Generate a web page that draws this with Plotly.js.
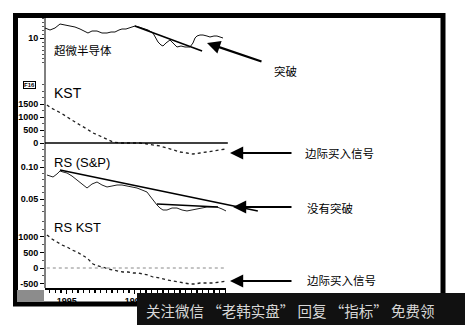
<!DOCTYPE html>
<html>
<head>
<meta charset="utf-8">
<script src="https://cdn.plot.ly/plotly-3.0.1.min.js"></script>
<style>html,body{margin:0;padding:0;background:#fff;}#chart{width:465px;height:325px;}</style>
</head>
<body>
<div id="chart"></div>
<script>
// ---- Data (years as decimal) ----
var priceX = [1994.680,1994.754,1994.827,1994.901,1994.974,1995.048,1995.121,1995.195,1995.254,1995.312,1995.371,1995.445,1995.518,1995.592,1995.651,1995.709,1995.768,1995.812,1995.871,1995.930,1996.004,1996.062,1996.121,1996.195,1996.268,1996.312,1996.342,1996.386,1996.415,1996.459,1996.518,1996.562,1996.621,1996.680,1996.739,1996.812,1996.856,1996.886,1996.915,1996.959,1997.004,1997.062,1997.106,1997.165,1997.209,1997.254,1997.298];
var priceY = [12.5,12,12.5,13.5,13.25,13,12.75,12.25,11.75,11.25,11.75,11.75,11.25,11.25,11.5,11.5,12,12.25,12.25,12.5,13,12.75,12.5,12,11.25,10,9,8.25,8,8.75,9.5,8.75,7.75,8,7.75,7.75,8.75,10,10.5,10.75,10.75,10.5,10.25,10.5,10.5,10.25,10];
var priceTrendX = [1996.00, 1996.99];
var priceTrendY = [13, 6.75];

var kstX = [1994.709,1994.768,1994.827,1994.915,1995.004,1995.092,1995.195,1995.298,1995.386,1995.489,1995.592,1995.680,1995.783,1995.886,1995.974,1996.077,1996.180,1996.268,1996.371,1996.474,1996.562,1996.665,1996.768,1996.856,1996.959,1997.062,1997.151,1997.254,1997.342];
var kstY = [1462,1346,1269,1154,1000,846,692,538,385,269,154,38,0,0,0,0,-38,-77,-115,-192,-269,-346,-385,-423,-385,-346,-308,-269,-231];

var rsX = [1994.709,1994.798,1994.856,1994.901,1994.945,1995.004,1995.077,1995.151,1995.224,1995.298,1995.371,1995.445,1995.518,1995.592,1995.665,1995.739,1995.812,1995.886,1995.959,1996.033,1996.106,1996.180,1996.224,1996.268,1996.327,1996.371,1996.415,1996.474,1996.548,1996.621,1996.695,1996.768,1996.842,1996.915,1996.989,1997.062,1997.136,1997.209,1997.283,1997.342];
var rsY = [0.0875,0.0844,0.0891,0.0938,0.0922,0.0906,0.0859,0.0797,0.0734,0.0672,0.0734,0.0766,0.0719,0.0688,0.0703,0.0719,0.0719,0.0703,0.0688,0.0672,0.0641,0.0609,0.0547,0.0484,0.0406,0.0359,0.0328,0.0328,0.0359,0.0359,0.0328,0.0313,0.0328,0.0344,0.0359,0.0375,0.0375,0.0375,0.0344,0.0313];
var rsTrendX = [1994.90, 1997.81];
var rsTrendY = [0.0953, 0.03125];
var rsFlatX = [1996.327, 1997.224];
var rsFlatY = [0.0422, 0.0375];

var rsKstX = [1994.709,1994.783,1994.856,1994.930,1995.004,1995.077,1995.151,1995.224,1995.298,1995.342,1995.386,1995.459,1995.533,1995.606,1995.680,1995.754,1995.827,1995.901,1995.974,1996.048,1996.121,1996.195,1996.268,1996.371,1996.474,1996.562,1996.665,1996.739,1996.812,1996.886,1996.959,1997.062,1997.151,1997.254,1997.342];
var rsKstY = [1065,935,839,742,677,581,516,419,323,226,129,65,32,-32,-65,-97,-129,-129,-161,-161,-194,-226,-290,-323,-387,-419,-452,-484,-516,-516,-484,-484,-484,-452,-419];

var yearTicks = [1995, 1996, 1997];
var yearLabels = ['1995', '1996', ''];
var priceTicks = [10];
var kstTicks = [0, 500, 1000, 1500];
var rsTicks = [0.05, 0.10];
var rsTickLabels = ['0.05', '0.10'];
var rsKstTicks = [-500, 0, 500, 1000];

// ---- Layout helpers ----
var W = 465, H = 325;
function px(x){ return x / W; }
function py(y){ return 1 - y / H; }
var tickFont = {family: 'Liberation Sans, Arial, sans-serif', size: 9, color: '#000', weight: 'bold'};
var cjk = 'Noto Sans CJK SC, sans-serif';

function yax(domain, range, tickvals, ticktext, minorD){
  return {
    domain: domain, range: range, anchor: 'x',
    tickvals: tickvals, ticktext: ticktext,
    ticks: 'outside', ticklen: 4, tickwidth: 1, tickcolor: '#000',
    tickfont: tickFont, showgrid: false, zeroline: false, showline: false,
    minor: {dtick: minorD, ticks: 'outside', ticklen: 2, tickcolor: '#555', showgrid: false},
    fixedrange: true
  };
}

var traces = [
  {x: priceX, y: priceY, xaxis: 'x', yaxis: 'y', mode: 'lines', line: {color: '#111', width: 1}},
  {x: priceTrendX, y: priceTrendY, xaxis: 'x', yaxis: 'y', mode: 'lines', line: {color: '#000', width: 1.6}},
  {x: kstX, y: kstY, xaxis: 'x', yaxis: 'y2', mode: 'lines', line: {color: '#222', width: 1.3, dash: 'dot'}},
  {x: rsX, y: rsY, xaxis: 'x', yaxis: 'y3', mode: 'lines', line: {color: '#222', width: 1}},
  {x: rsTrendX, y: rsTrendY, xaxis: 'x5', yaxis: 'y3', mode: 'lines', line: {color: '#000', width: 1.6}},
  {x: rsFlatX, y: rsFlatY, xaxis: 'x', yaxis: 'y3', mode: 'lines', line: {color: '#000', width: 1.6}},
  {x: rsKstX, y: rsKstY, xaxis: 'x', yaxis: 'y4', mode: 'lines', line: {color: '#222', width: 1.3, dash: 'dot'}}
];

var layout = {
  width: W, height: H,
  margin: {l: 0, r: 0, t: 0, b: 0},
  paper_bgcolor: '#fff', plot_bgcolor: 'rgba(0,0,0,0)',
  showlegend: false,
  xaxis: {
    domain: [px(45), px(226)], range: [1994.68, 1994.68 + 181/68], anchor: 'y4',
    tickvals: yearTicks, ticktext: yearLabels,
    ticks: 'outside', ticklen: 4, tickwidth: 1.2, tickcolor: '#000',
    minor: {dtick: 1/12, tick0: 1995, ticks: 'outside', ticklen: 3, tickcolor: '#000', showgrid: false},
    tickfont: tickFont, showline: true, linecolor: '#000', linewidth: 1.5,
    showgrid: false, zeroline: false, fixedrange: true
  },
  xaxis5: {
    domain: [px(45), px(270)], range: [1994.68, 1994.68 + 225/68], anchor: 'y3',
    visible: false, fixedrange: true
  },
  yaxis: yax([py(62), py(16)], [4, 15.5], priceTicks, ['10'], 1),
  yaxis2: yax([py(156), py(80)], [-500, 2423], kstTicks, ['0','500','1000','1500'], 250),
  yaxis3: yax([py(218), py(158)], [0.0203, 0.1141], rsTicks, rsTickLabels, 0.01),
  yaxis4: yax([py(288), py(220)], [-645, 1548], rsKstTicks, ['-500','0','500','1000'], 250),
  shapes: [
    {type: 'rect', xref: 'paper', yref: 'paper', x0: px(15.5), x1: px(443), y0: py(304), y1: py(15.5), line: {color: '#000', width: 5}, layer: 'above'},
    {type: 'line', xref: 'paper', yref: 'paper', x0: px(45), x1: px(45), y0: py(288), y1: py(17), line: {color: '#000', width: 1}},
    {type: 'line', xref: 'x domain', yref: 'y2', x0: 0, x1: 1.01, y0: 0, y1: 0, line: {color: '#000', width: 1.6}},
    {type: 'line', xref: 'x domain', yref: 'y4', x0: 0.01, x1: 1, y0: 0, y1: 0, line: {color: '#888', width: 1, dash: 'dot'}},
    {type: 'rect', xref: 'paper', yref: 'paper', x0: px(17), x1: px(44), y0: py(302), y1: py(290), fillcolor: '#8c8c8c', line: {width: 0}},
    {type: 'rect', xref: 'paper', yref: 'paper', x0: px(137), x1: 1, y0: 0, y1: py(293), fillcolor: '#111', line: {width: 0}, layer: 'above'}
  ],
  annotations: [
    {xref: 'paper', yref: 'paper', x: px(52), y: py(50), xanchor: 'left', yanchor: 'middle', text: '超微半导体', showarrow: false, font: {family: cjk, size: 11.5, color: '#000'}},
    {xref: 'paper', yref: 'paper', x: px(52), y: py(93), xanchor: 'left', yanchor: 'middle', text: 'KST', showarrow: false, font: {family: 'Liberation Sans, Arial, sans-serif', size: 14, color: '#000'}},
    {xref: 'paper', yref: 'paper', x: px(52), y: py(162), xanchor: 'left', yanchor: 'middle', text: 'RS (S&amp;P)', showarrow: false, font: {family: 'Liberation Sans, Arial, sans-serif', size: 13, color: '#000'}},
    {xref: 'paper', yref: 'paper', x: px(52), y: py(227), xanchor: 'left', yanchor: 'middle', text: 'RS KST', showarrow: false, font: {family: 'Liberation Sans, Arial, sans-serif', size: 13, color: '#000'}},
    {xref: 'paper', yref: 'paper', x: px(29), y: py(85), xanchor: 'center', yanchor: 'middle', text: 'F16', showarrow: false, font: {family: 'Liberation Sans, Arial, sans-serif', size: 6, color: '#000', weight: 'bold'}, bordercolor: '#000', borderwidth: 1, borderpad: 0},
    {xref: 'paper', yref: 'paper', x: px(207), y: py(43), ax: 56, ay: 19, text: '', showarrow: true, arrowhead: 2, arrowsize: 1.2, arrowwidth: 2.2, arrowcolor: '#000'},
    {xref: 'paper', yref: 'paper', x: px(230), y: py(153), ax: 63, ay: 0, text: '', showarrow: true, arrowhead: 2, arrowsize: 1.2, arrowwidth: 2.2, arrowcolor: '#000'},
    {xref: 'paper', yref: 'paper', x: px(233), y: py(207), ax: 60, ay: 0, text: '', showarrow: true, arrowhead: 2, arrowsize: 1.2, arrowwidth: 2.2, arrowcolor: '#000'},
    {xref: 'paper', yref: 'paper', x: px(230), y: py(281), ax: 63, ay: 0, text: '', showarrow: true, arrowhead: 2, arrowsize: 1.2, arrowwidth: 2.2, arrowcolor: '#000'},
    {xref: 'paper', yref: 'paper', x: px(272), y: py(71), xanchor: 'left', yanchor: 'middle', text: '突破', showarrow: false, font: {family: cjk, size: 11.5, color: '#000'}},
    {xref: 'paper', yref: 'paper', x: px(303), y: py(153), xanchor: 'left', yanchor: 'middle', text: '边际买入信号', showarrow: false, font: {family: cjk, size: 11.5, color: '#000'}},
    {xref: 'paper', yref: 'paper', x: px(305), y: py(208), xanchor: 'left', yanchor: 'middle', text: '没有突破', showarrow: false, font: {family: cjk, size: 11.5, color: '#000'}},
    {xref: 'paper', yref: 'paper', x: px(305), y: py(280), xanchor: 'left', yanchor: 'middle', text: '边际买入信号', showarrow: false, font: {family: cjk, size: 11.5, color: '#000'}},
    {xref: 'paper', yref: 'paper', x: px(144), y: py(310), xanchor: 'left', yanchor: 'middle', text: '关注微信 “老韩实盘” 回复 “指标” 免费领', showarrow: false, font: {family: cjk, size: 14.5, color: '#d8d8d8'}}
  ]
};

Plotly.newPlot('chart', traces, layout, {displayModeBar: false, staticPlot: true});
</script>
</body>
</html>
